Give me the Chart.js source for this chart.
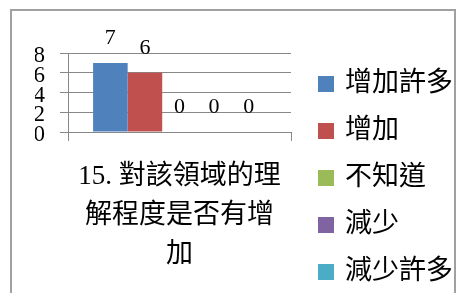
<!DOCTYPE html>
<html>
<head>
<meta charset="utf-8">
<script src="https://cdn.jsdelivr.net/npm/chart.js@4"></script>
<style>
  body { margin: 0; background: #fff; }
  #wrap { position: relative; width: 456px; height: 293px; overflow: hidden; }
  #frame { position: absolute; left: 10px; top: 9px; width: 442px; height: 300px;
           border: 2px solid #a0a0a0; border-bottom: none; }
  #myChart { position: absolute; left: 0; top: 0; }
</style>
</head>
<body>
<div id="wrap">
  <div id="frame"></div>
  <canvas id="myChart" width="456" height="293"></canvas>
</div>
<script>
const categories = [["15. 對該領域的理", "解程度是否有增", "加"]];
const seriesNames = ["增加許多", "增加", "不知道", "減少", "減少許多"];
const seriesValues = [[7], [6], [0], [0], [0]];
const seriesColors = ["#4F81BD", "#C0504D", "#9BBB59", "#8064A2", "#4BACC6"];
const yTicks = [0, 2, 4, 6, 8];

const serif = '"Liberation Serif", "Noto Sans CJK TC", serif';
const grey = "#888888";

// value labels above each bar
const barLabels = {
  id: "barLabels",
  afterDatasetsDraw(chart) {
    const c = chart.ctx;
    c.save();
    c.font = "22px " + serif;
    c.fillStyle = "#000";
    c.textAlign = "center";
    c.textBaseline = "middle";
    chart.data.datasets.forEach((ds, i) => {
      chart.getDatasetMeta(i).data.forEach((bar, j) => {
        c.fillText(String(ds.data[j]), bar.x, bar.y - 25);
      });
    });
    c.restore();
  },
};

// legend on the right, spaced like the original
const sideLegend = {
  id: "sideLegend",
  afterDraw(chart) {
    const c = chart.ctx;
    c.save();
    c.font = "27px " + serif;
    c.textBaseline = "middle";
    c.textAlign = "left";
    chart.data.datasets.forEach((ds, i) => {
      const y = 84 + i * 47;
      c.fillStyle = ds.backgroundColor;
      c.fillRect(318, y - 8, 16, 16);
      c.fillStyle = "#000";
      c.fillText(ds.label, 345, y);
    });
    c.restore();
  },
};

const ctx = document.getElementById("myChart");

new Chart(ctx, {
  type: "bar",
  data: {
    labels: categories,
    datasets: seriesNames.map((name, i) => ({
      label: name,
      data: seriesValues[i],
      backgroundColor: seriesColors[i],
      categoryPercentage: 0.775,
      barPercentage: 1,
    })),
  },
  options: {
    responsive: false,
    animation: false,
    layout: {
      padding: { left: 35, right: 165, top: 53, bottom: 19 },
    },
    plugins: {
      legend: { display: false },
      tooltip: { enabled: false },
    },
    scales: {
      x: {
        offset: true,
        afterFit(axis) {
          // the wrapped label is taller than half the chart; keep it whole
          axis.height = 142;
          axis.paddingLeft = 0;
          axis.paddingRight = 0;
        },
        grid: {
          offset: true,
          drawOnChartArea: false,
          tickLength: 9,
          color: grey,
        },
        border: { color: grey },
        ticks: {
          color: "#000",
          padding: 17,
          maxRotation: 0,
          font: { family: serif, size: 27, lineHeight: 1.43 },
        },
      },
      y: {
        min: 0,
        max: 8,
        afterBuildTicks(axis) {
          axis.ticks = yTicks.map((v) => ({ value: v }));
        },
        afterFit(axis) {
          axis.width = 33;
        },
        grid: { color: grey, tickLength: 8 },
        border: { color: grey },
        ticks: {
          color: "#000",
          padding: 15,
          labelOffset: 3,
          autoSkip: false,
          font: { family: serif, size: 23 },
        },
      },
    },
  },
  plugins: [barLabels, sideLegend],
});
</script>
</body>
</html>
